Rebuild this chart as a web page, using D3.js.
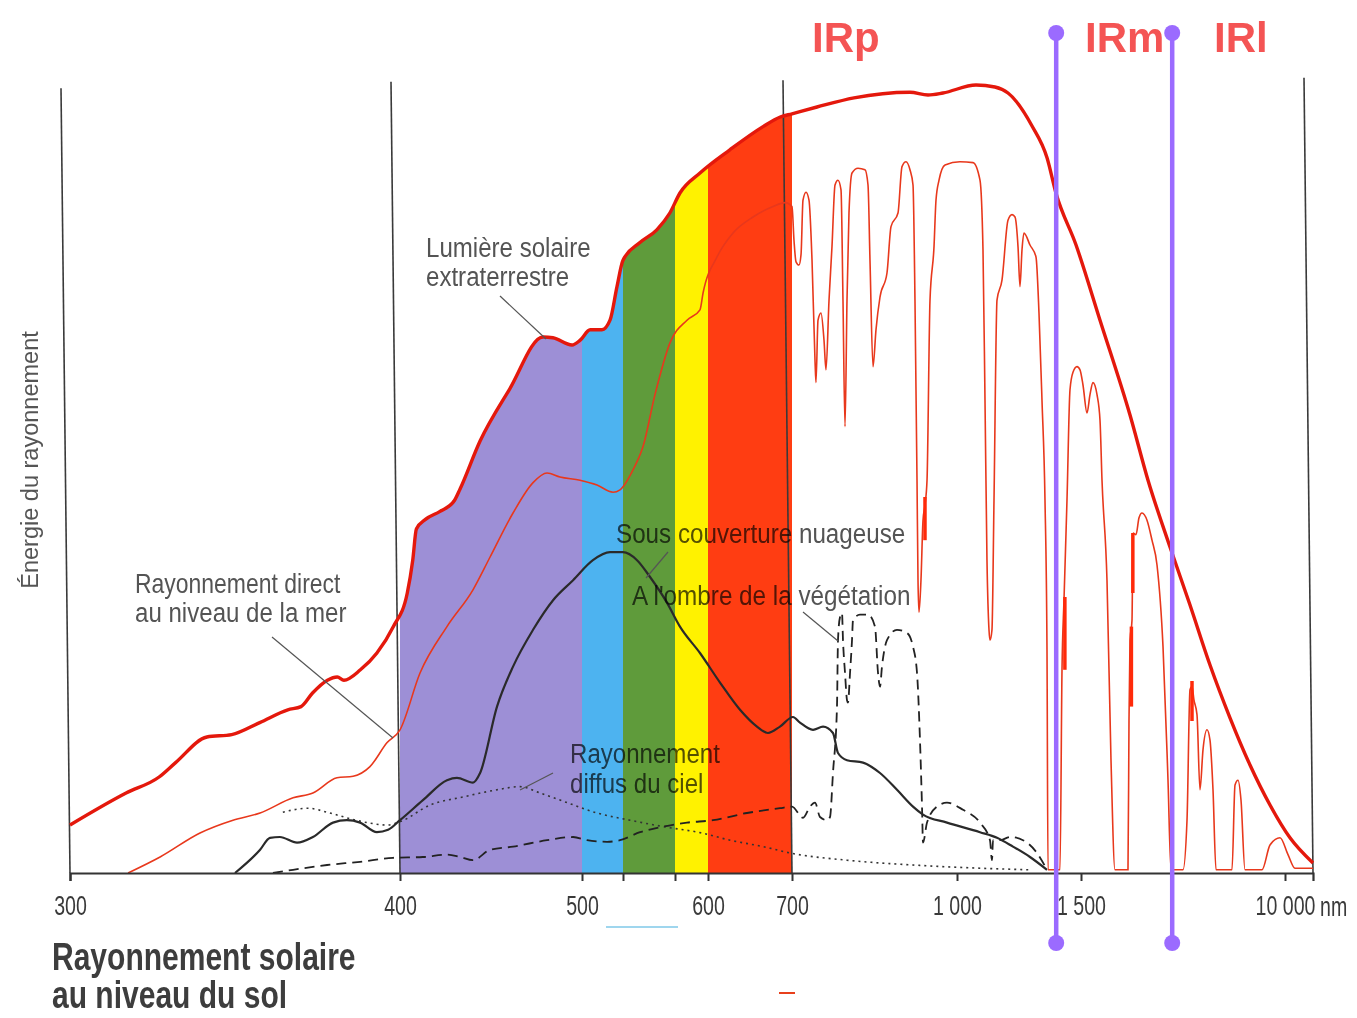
<!DOCTYPE html>
<html>
<head>
<meta charset="utf-8">
<script src="https://cdnjs.cloudflare.com/ajax/libs/d3/7.8.5/d3.min.js"></script>
<style>
body{margin:0;background:#fff}
svg{display:block}
text{font-family:"Liberation Sans",Arial,sans-serif}
</style>
</head>
<body>
<svg></svg>
<script>
// wavelength (nm) breakpoints of the non linear axis and tick labels
var axisDomain = [300,400,500,530,570,600,700,1000,1500,10000,12000]
var tickValues = [300,400,500,530,570,600,700,1000,1500,10000]
var tickLabels = ["300","400","500","","","600","700","1 000","1 500","10 000"]

// visible spectrum bands
var bandEdges = [400,500,530,570,600,700]
var bandColors = ["#9d8fd6","#4db3f0","#5f9b3b","#fff200","#ff3d12"]

// infrared limits (purple) and labels
var irLimits = [1400,5300]
var irLabels = ["IRp","IRm","IRl"]

// frame lines
var frameLines = [300,400,700,12000]
var frameTops = [98.1,98.9,99.1,99.4]

// energy curves [nm, energy]
var extraterrestre = [[300,6.0],[317,10.0],[327,12.0],[332,13.8],[341.5,17.0],[349,17.3],[357.5,18.8],[366,20.4],[370,20.8],[373.5,22.5],[378,24.1],[381,24.5],[383,24.1],[388,25.4],[393,27.5],[398,30.8],[404,35],[407,39.1],[409,43],[414,44.2],[422,45.2],[430,46.6],[433,48],[444,54],[460,60.4],[478.6,67],[484,66.9],[494.5,66],[499,66.6],[506,67.9],[514.6,67.9],[520.5,69.1],[525.6,73.3],[530,76.6],[543,78.8],[556,80.4],[566,82.5],[574.5,85],[592.7,87.5],[626,90.4],[665.5,93.3],[686,94.5],[700,94.9],[745.5,95.75],[812.7,96.9],[914.5,97.6],[947.3,97.25],[974.5,97.5],[1076.6,98.5],[1153,98.25],[1205.6,97.5],[1302,93.4],[1363,89.4],[1399,85],[1480,78.5],[2292,69.1],[3542,57.25],[4292,49.1],[5208,40.75],[6042,33.5],[6875,26],[7708,19.4],[8542,13.5],[9375,8.5],[10357,4.4],[12000,1.25]]

var directMer = [[317.6,0],[327.3,2],[339.4,5],[349.4,6.6],[357.6,7.5],[367.6,9.4],[373.6,10],[380.9,11.9],[385.8,12.1],[390.9,13.3],[396.1,16.3],[400,17.9],[411,25],[425.8,30.8],[440.1,35.4],[449.5,39.5],[462.1,45],[473.1,48.8],[480.8,50],[487.9,49.5],[498.9,49.1],[511,48.5],[522.7,47.6],[527.8,47.9],[537.7,50.4],[545.4,53.3],[554.6,59.8],[566.2,66.3],[580.9,69.1],[592.7,70.4],[595.5,72.5],[610.7,77],[629.8,80],[653.6,82],[677.4,83.3],[691.7,83.8],[700,83.3],[703.6,79.1],[707.3,76.4],[712.7,76],[716.4,77.3],[720,84.1],[725.5,85.1],[730.9,84.1],[736.4,76.6],[741.8,64.1],[743.6,61.3],[747.3,69.1],[752.7,70],[758.2,66.6],[761.8,62.9],[767.3,71.6],[772.7,78.3],[778.2,86],[783.6,86.6],[789.1,85.4],[792.7,71.6],[796.4,55.8],[800,71.6],[803.6,82.5],[809.1,87.5],[820,88.1],[832.7,87.9],[838.2,86],[841.8,76.6],[847.3,63.3],[852.7,67.9],[860,72],[872.7,75],[880,80.8],[892.7,82.5],[900,88.3],[907.3,88.9],[914.5,87.9],[920,86],[923.6,71.6],[927.3,49.1],[929.1,36.6],[930.9,32.6],[934.5,36.6],[938.2,44.1],[941.8,46],[945.5,49.1],[950.9,71.6],[958.2,78.3],[961.8,84.1],[967.3,86.6],[978.2,88.5],[1012,88.9],[1064.5,88.8],[1092.7,86.6],[1104.8,77.9],[1112.9,59.1],[1120.9,39.1],[1129,30.4],[1133,29.1],[1141,30.4],[1149.2,46.6],[1161.3,71.6],[1181.4,74.1],[1205.6,81.6],[1221.8,82.3],[1233.9,82],[1246,78.3],[1254,73.3],[1262.1,77.9],[1270.1,80],[1294.3,78.5],[1318.5,77],[1330.6,70],[1342.7,59.1],[1354.8,46.6],[1362.9,27.9],[1366.9,0.4],[1415.3,0.4],[1423.4,25.4],[1431.4,34.1],[1443.5,46.6],[1455.6,60.4],[1467.7,62.6],[1483.9,63.3],[1496,62.9],[1583,61],[1750,57.5],[1875,59.8],[2000,61.3],[2167,59.8],[2292,56.6],[2375,49.1],[2583,36.6],[2750,14.1],[2917,0.4],[3458,0.4],[3500,19.1],[3542,29.1],[3625,31.6],[3667,42.5],[3792,42.3],[3917,44.4],[4042,45],[4250,44.1],[4458,41.6],[4667,38.5],[4917,28.3],[5125,11.6],[5250,0.4],[5750,0.4],[5917,6.6],[6042,22.9],[6125,23.3],[6208,21.6],[6333,19.8],[6458,10.4],[6583,15.4],[6750,17.9],[6875,16.6],[7000,10.4],[7125,0.4],[7792,0.4],[7917,11],[8042,11.6],[8167,9.1],[8333,0.4],[9042,0.4],[9375,3.5],[9792,4.4],[10214,2.3],[10714,0.6],[12000,0.6]]

// short thick red marks on the absorption spectrum [nm, e1, e2]
var redMarks = [[941.8,41.6,47],[1435,25.4,34.5],[3600,20.8,30.8],[3660,35,42.5],[6125,19,24]]

var nuageuse = [[350,0],[357.6,2.9],[360.6,4.4],[363.6,4.5],[368.8,3.8],[373.6,4.5],[379.7,6.3],[383.9,6.6],[387.9,6.3],[393,5.1],[396.4,5.4],[400,6.6],[412.6,9.1],[425.8,11.6],[431.3,11.9],[440.1,11.3],[444,12.5],[453.3,20.8],[462.1,25.8],[473.1,30.4],[484.1,34.1],[495.1,36.6],[508,39.1],[520.5,40.1],[530,40.1],[540.8,39.1],[550.8,37],[563.8,33.8],[574.5,30.8],[592.7,27.5],[614.3,23.8],[638.1,20.4],[658.3,18.3],[671.4,17.5],[685.7,18.3],[701.8,19.5],[714.5,18.8],[738.2,17.9],[756.4,18.3],[774.5,17.5],[783.6,15],[800,14.1],[829.1,13.8],[860,12.5],[890.9,10.4],[920,8.3],[938.2,7.3],[981.8,6.3],[1092.7,5.1],[1161.3,4.4],[1225.8,3.3],[1294.3,2],[1362.9,0.4]]

var vegetation = [[361.5,0],[367.6,0.4],[377.9,1],[387.9,1.4],[397.9,1.9],[412.6,2],[425.8,2.3],[433,2],[440.1,1.6],[449.5,2.9],[462.1,3.3],[480.8,4.1],[495.1,4.5],[503.7,4.1],[518.3,3.9],[527.8,4.1],[543.1,5.1],[560.8,5.8],[580.9,6.3],[606,6.6],[646.4,7.5],[685.7,8.1],[700,8.3],[720,6.9],[732.7,8.3],[741.8,8.8],[750.9,7],[763.6,6.6],[769.1,7],[774.5,12.5],[781.8,20.8],[783.6,29.1],[787.3,32],[790.9,32.5],[792.7,29.1],[796.4,25],[800,21.6],[801.8,21.3],[805.5,25],[809.1,29.1],[810.9,31.6],[823.6,32.3],[838.2,32.3],[850.9,30.8],[856.4,25],[860,23.3],[863.6,25.8],[872.7,29.1],[890.9,30.4],[909.1,30],[920,28.3],[927.3,25],[932.7,16.6],[936.4,8.3],[938.2,3.8],[945.5,6.3],[963.6,8.3],[981.8,8.8],[1024.2,7.9],[1092.7,6.3],[1133,4.1],[1141,1.6],[1145.2,4.1],[1173.4,4.1],[1213.7,4.5],[1266.1,4.1],[1322.6,2.5],[1362.9,0.4]]

var diffus = [[364.5,7.6],[372.1,8.1],[377.9,7.6],[383.9,6.9],[390,6.3],[396.1,6],[400,6.4],[416.5,8.5],[434.6,9.5],[453.3,10.4],[465.9,10.8],[476.9,10],[491.8,8.8],[511,7.5],[535.4,6.6],[560.8,5.8],[594.5,5],[626.2,4.1],[665.5,3.3],[697.6,2.5],[800,1.6],[920,1],[1092.7,0.6],[1294.3,0.4]]


var screen = {width:1357,height:1018}

var svg = d3.select("svg")
    .attr("width",screen.width)
    .attr("height",screen.height)

var xScale = d3.scaleLinear()
    .domain(axisDomain)
    .range([70,400,582,623,675,708,792,957,1081,1285,1313])

var yScale = d3.scaleLinear()
    .domain([0,100])
    .range([873,73])

var line = d3.line()
    .x(function(d){return xScale(d[0])})
    .y(function(d){return yScale(d[1])})
    .curve(d3.curveMonotoneX)

var area = d3.area()
    .x(function(d){return xScale(d[0])})
    .y0(yScale(0))
    .y1(function(d){return yScale(d[1])})
    .curve(d3.curveMonotoneX)

svg.append("defs")
    .append("clipPath")
    .attr("id","sunClip")
    .append("path")
    .attr("d",area(extraterrestre))

// colour bands under the extraterrestrial curve
svg.append("g")
    .attr("clip-path","url(#sunClip)")
    .selectAll("rect")
    .data(bandColors)
    .enter()
    .append("rect")
    .attr("x",function(c,i){return xScale(bandEdges[i])})
    .attr("width",function(c,i){return xScale(bandEdges[i+1])-xScale(bandEdges[i])})
    .attr("y",0)
    .attr("height",yScale(0))
    .attr("fill",function(c){return c})

// thin frame lines (slightly tilted like the scan)
svg.append("g")
    .selectAll("line")
    .data(frameLines)
    .enter()
    .append("line")
    .attr("x1",function(d){return xScale(d)-9})
    .attr("y1",function(d,i){return yScale(frameTops[i])})
    .attr("x2",function(d){return xScale(d)})
    .attr("y2",yScale(0))
    .attr("stroke","#3a3a3a")
    .attr("stroke-width",1.6)

// curves
svg.append("path")
    .attr("d",line(directMer))
    .attr("fill","none")
    .attr("stroke","#e8381c")
    .attr("stroke-width",1.6)

svg.append("g")
    .selectAll("line")
    .data(redMarks)
    .enter()
    .append("line")
    .attr("x1",function(d){return xScale(d[0])})
    .attr("x2",function(d){return xScale(d[0])})
    .attr("y1",function(d){return yScale(d[1])})
    .attr("y2",function(d){return yScale(d[2])})
    .attr("stroke","#ff2a0a")
    .attr("stroke-width",3.5)

svg.append("path")
    .attr("d",line(diffus))
    .attr("fill","none")
    .attr("stroke","#333")
    .attr("stroke-width",1.6)
    .attr("stroke-dasharray","2,4")

svg.append("path")
    .attr("d",line(vegetation))
    .attr("fill","none")
    .attr("stroke","#222")
    .attr("stroke-width",1.8)
    .attr("stroke-dasharray","10,6")

svg.append("path")
    .attr("d",line(nuageuse))
    .attr("fill","none")
    .attr("stroke","#2a2a2a")
    .attr("stroke-width",2.2)

svg.append("path")
    .attr("d",line(extraterrestre))
    .attr("fill","none")
    .attr("stroke","#e4180c")
    .attr("stroke-width",3.4)

// axis
var xAxis = d3.axisBottom(xScale)
    .tickValues(tickValues)
    .tickFormat(function(d,i){return tickLabels[i]})
    .tickSize(8)
    .tickSizeOuter(8)
    .tickPadding(14)

var axisG = svg.append("g")
    .attr("transform","translate(0,"+yScale(0)+")")
    .call(xAxis)
axisG.select(".domain").attr("stroke","#333").attr("stroke-width",2.2)
axisG.selectAll(".tick line").attr("stroke","#333").attr("stroke-width",2)
axisG.selectAll(".tick text")
    .attr("font-size",28)
    .attr("fill","#3a3a3a")
    .attr("font-family","Liberation Sans, Arial, sans-serif")
    .attr("transform","scale(0.7,1)")

// text helper: condensed look by horizontal scaling
var addText = function(str,x,y,size,sx,fill,weight,anchor)
{
    return svg.append("text")
        .attr("transform","translate("+x+","+y+") scale("+sx+",1)")
        .attr("font-size",size)
        .attr("fill",fill)
        .attr("font-weight",weight || "normal")
        .attr("text-anchor",anchor || "start")
        .style("mix-blend-mode","multiply")
        .text(str)
}

addText("nm",1320,916,28,0.7,"#3a3a3a")

// annotations
var grey = "#545454"
addText("Lumière solaire",426,257,28,0.86,grey)
addText("extraterrestre",426,286,28,0.86,grey)
addText("Rayonnement direct",135,593,28,0.82,grey)
addText("au niveau de la mer",135,622,28,0.86,grey)
addText("Sous couverture nuageuse",616,543,28,0.865,grey)
addText("A l'ombre de la végétation",632,605,28,0.867,grey)
addText("Rayonnement",570,763,28,0.86,grey)
addText("diffus du ciel",570,793,28,0.86,grey)

var pointers = [[500,296,546,339],[272,637,393,738],[668,552,646,578],[803,612,838,641],[553,773,520,790]]
svg.append("g")
    .selectAll("line")
    .data(pointers)
    .enter()
    .append("line")
    .attr("x1",function(p){return p[0]})
    .attr("y1",function(p){return p[1]})
    .attr("x2",function(p){return p[2]})
    .attr("y2",function(p){return p[3]})
    .attr("stroke","#555")
    .attr("stroke-width",1.2)

// y title
svg.append("text")
    .attr("transform","translate(38,460) rotate(-90) scale(0.98,1)")
    .attr("text-anchor","middle")
    .attr("font-size",24)
    .attr("fill","#555")
    .text("Énergie du rayonnement")

// bottom title
addText("Rayonnement solaire",52,970,38,0.79,"#3d3d3d","bold")
addText("au niveau du sol",52,1008,38,0.79,"#3d3d3d","bold")

// small scan marks
svg.append("line").attr("x1",606).attr("x2",678).attr("y1",927).attr("y2",927)
    .attr("stroke","#9fd6ee").attr("stroke-width",2)
svg.append("line").attr("x1",779).attr("x2",795).attr("y1",993).attr("y2",993)
    .attr("stroke","#e8401c").attr("stroke-width",2)

// IR labels
var irX = [812,1085,1214]
svg.selectAll(".ir")
    .data(irLabels)
    .enter()
    .append("text")
    .attr("class","ir")
    .attr("x",function(d,i){return irX[i]})
    .attr("y",52)
    .attr("font-size",42)
    .attr("font-weight","bold")
    .attr("fill","#f45454")
    .text(function(d){return d})

// purple IR limits
var irG = svg.append("g")
    .selectAll("g")
    .data(irLimits)
    .enter()
    .append("g")
irG.append("line")
    .attr("x1",function(d){return xScale(d)})
    .attr("x2",function(d){return xScale(d)})
    .attr("y1",33)
    .attr("y2",943)
    .attr("stroke","#9b6bff")
    .attr("stroke-width",4.5)
irG.selectAll("circle")
    .data(function(d){return [[d,33],[d,943]]})
    .enter()
    .append("circle")
    .attr("cx",function(p){return xScale(p[0])})
    .attr("cy",function(p){return p[1]})
    .attr("r",8)
    .attr("fill","#9b6bff")
</script>
</body>
</html>
